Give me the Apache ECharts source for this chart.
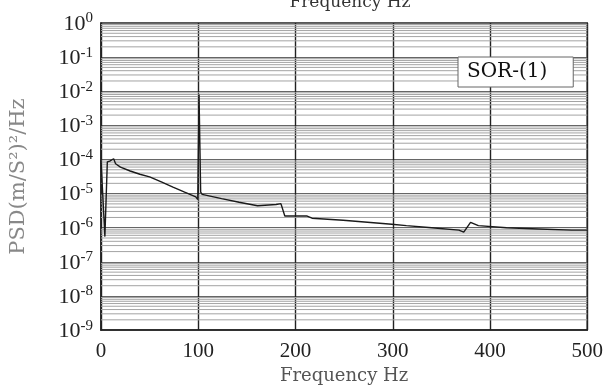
<!DOCTYPE html>
<html>
<head>
<meta charset="utf-8">
<script src="https://cdn.jsdelivr.net/npm/echarts@6/dist/echarts.min.js"></script>
<style>html,body{margin:0;padding:0;background:#fff}#c{width:606px;height:390px}</style>
</head>
<body>
<div id="c"></div>
<script>
// ---- data ----
var freqHz = [0, 1.5, 4, 6.5, 9, 13, 15, 17, 20, 30, 40, 50, 62, 74, 86, 97.5, 99.5, 100.8, 102.5, 104, 124, 142, 161, 180, 185, 189, 202, 212, 217, 249, 299, 314, 340, 368, 373, 380, 388, 417, 450, 484, 500];
var psd    = [9.5e-5, 9.5e-5, 5.5e-7, 8.5e-5, 9e-5, 1.05e-4, 7.5e-5, 7.8e-5, 6e-5, 4.6e-5, 3.7e-5, 3.1e-5, 2.2e-5, 1.55e-5, 1.1e-5, 8e-6, 6.7e-6, 8e-3, 1.1e-5, 9.5e-6, 7.1e-6, 5.6e-6, 4.4e-6, 4.8e-6, 5.1e-6, 2.2e-6, 2.2e-6, 2.2e-6, 1.9e-6, 1.66e-6, 1.26e-6, 1.15e-6, 1.0e-6, 8.5e-7, 7.4e-7, 1.44e-6, 1.15e-6, 1.0e-6, 9.2e-7, 8.5e-7, 8.5e-7];
var seriesName = 'SOR-(1)';
var xTicks = [0, 100, 200, 300, 400, 500];
var yTickExponents = [0, -1, -2, -3, -4, -5, -6, -7, -8, -9];
var minorMultipliers = [2, 3, 4, 5, 6, 7, 8, 9];

var lineData = freqHz.map(function (f, i) { return [f, psd[i]]; });
// log-paper minor grid lines, drawn as broken line segments across the x range
var minorGridData = [];
yTickExponents.forEach(function (e) {
  if (e === 0) return;
  minorMultipliers.forEach(function (m) {
    var v = m * Math.pow(10, e);
    minorGridData.push([xTicks[0], v], [xTicks[xTicks.length - 1], v], [xTicks[xTicks.length - 1], '-']);
  });
});

var serif = '"Liberation Serif", "DejaVu Serif", serif';
var chart = echarts.init(document.getElementById('c'), null, { renderer: 'canvas' });
chart.setOption({
  animation: false,
  backgroundColor: '#fff',
  title: {
    text: 'Frequency Hz', left: 345, top: -11, textAlign: 'center',
    textStyle: { fontFamily: '"DejaVu Serif", serif', fontSize: 17, fontWeight: 'normal', color: '#333' }
  },
  legend: {
    data: [seriesName], left: 458, top: 57, icon: 'none', itemWidth: 0, itemGap: 0,
    backgroundColor: '#fff', borderColor: '#666', borderWidth: 1, borderRadius: 0,
    padding: [5, 26, 5, 4],
    textStyle: { fontFamily: '"DejaVu Serif", serif', fontSize: 20, color: '#111' }
  },
  grid: { left: 100, right: 10, top: 23, bottom: 57, show: true, borderColor: '#222', borderWidth: 1.5, backgroundColor: 'transparent' },
  xAxis: {
    type: 'value', min: 0, max: 500, interval: 100,
    name: 'Frequency Hz', nameLocation: 'middle', nameGap: 35,
    nameTextStyle: { fontFamily: '"DejaVu Serif", serif', fontSize: 18, color: '#555' },
    axisLine: { show: true, lineStyle: { color: '#222', width: 1.5 } },
    axisTick: { show: false },
    axisLabel: {
      margin: 11, fontFamily: serif, fontSize: 21, color: '#222',
      formatter: function (v) { return xTicks.indexOf(v) >= 0 ? String(v) : ''; }
    },
    splitLine: { show: true, lineStyle: { color: '#222', width: 1.4 } }
  },
  yAxis: {
    type: 'log', logBase: 10, min: 1e-9, max: 1, splitNumber: 9,
    name: 'PSD(m/S\u00B2)\u00B2/Hz', nameLocation: 'middle', nameGap: 72, nameRotate: 90,
    nameTextStyle: { fontFamily: '"DejaVu Serif", serif', fontSize: 21, color: '#888' },
    axisLine: { show: true, lineStyle: { color: '#222', width: 1.5 } },
    axisTick: { show: false },
    axisLabel: {
      margin: 8,
      formatter: function (v) {
        var e = Math.round(Math.log10(v));
        if (yTickExponents.indexOf(e) < 0) return '';
        return '{b|10}{s|' + e + '}';
      },
      rich: {
        b: { fontFamily: serif, fontSize: 22, color: '#222', verticalAlign: 'bottom', lineHeight: 24 },
        s: { fontFamily: serif, fontSize: 15, color: '#222', verticalAlign: 'top', lineHeight: 24, padding: [0, 0, 10, 0] }
      }
    },
    splitLine: { show: true, lineStyle: { color: '#666', width: 1.2 } }
  },
  series: [
    {
      name: 'minor grid', type: 'line', data: minorGridData, showSymbol: false, symbol: 'none',
      connectNulls: false, silent: true, legendHoverLink: false, z: 1,
      lineStyle: { color: '#a3a3a3', width: 1 }, itemStyle: { color: '#a3a3a3' }
    },
    {
      name: seriesName, type: 'line', data: lineData, showSymbol: false, symbol: 'none',
      lineStyle: { color: '#1a1a1a', width: 1.4 }, itemStyle: { color: '#1a1a1a' },
      z: 5
    }
  ]
});
</script>
</body>
</html>
